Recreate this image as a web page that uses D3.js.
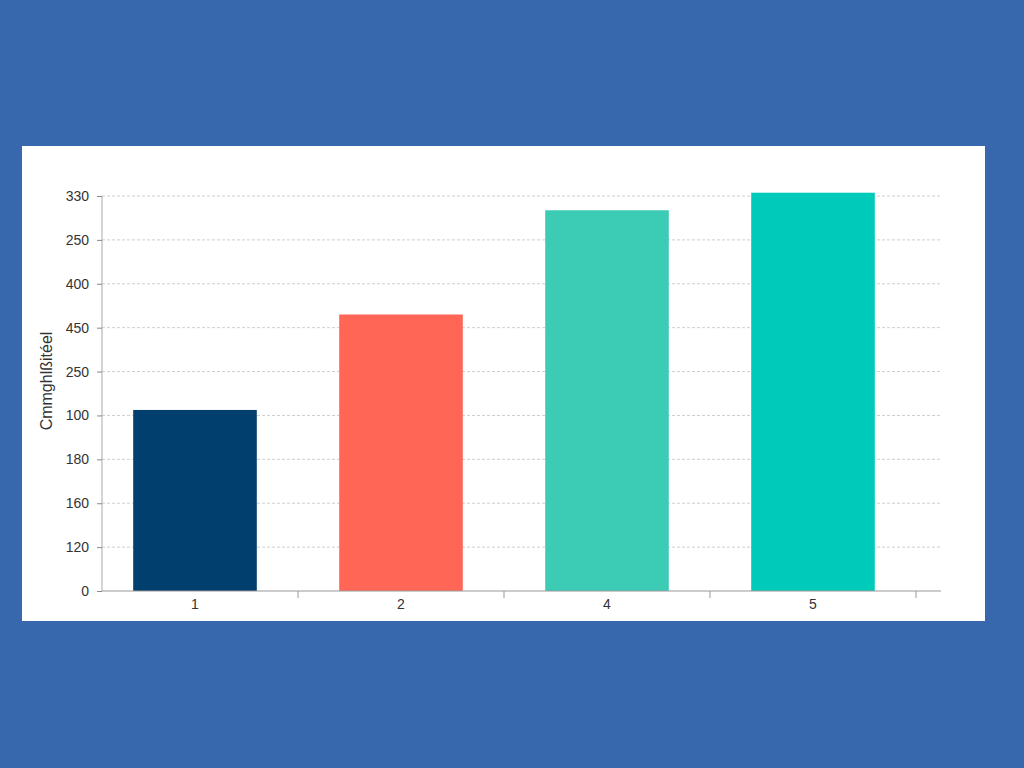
<!DOCTYPE html>
<html>
<head>
<meta charset="utf-8">
<script src="https://cdn.jsdelivr.net/npm/d3@7"></script>
<style>
  html, body { margin: 0; padding: 0; background: #3768ad; }
  svg { display: block; }
</style>
</head>
<body>
<svg></svg>
<script>
const [WIDTH, HEIGHT] = [1024, 768]

// data
const categories = ["1", "2", "4", "5"]
const values = [165, 252, 347, 363]
const barColors = ["#003f6e", "#ff6655", "#3ccbb5", "#00cbbb"]
const tickValues = [0, 40, 80, 120, 160, 200, 240, 280, 320, 360]
const tickLabels = ["0", "120", "160", "180", "100", "250", "450", "400", "250", "330"]
const yTitle = "Cmmghlßitéel"

const svg = d3.select("svg")
    .attr("width", WIDTH)
    .attr("height", HEIGHT)

// white panel
svg.append("rect")
    .attr("x", 22).attr("y", 146)
    .attr("width", 963).attr("height", 475)
    .attr("fill", "#ffffff")

const y = d3.scaleLinear().domain([0, 360]).range([591, 196])
const xOuter = d3.scaleBand().domain(categories).range([92, 916])
const xBar = d3.scaleBand().domain(categories).range([92, 916])
    .paddingInner(0.4).paddingOuter(0.2)

// grid lines
svg.append("g")
    .selectAll("line")
    .data(tickValues.slice(1))
    .join("line")
    .attr("x1", 102).attr("x2", 940)
    .attr("y1", d => y(d)).attr("y2", d => y(d))
    .attr("stroke", "#cfcfcf")
    .attr("stroke-dasharray", "3,2")
    .attr("stroke-width", 1)

// bars
svg.append("g")
    .selectAll("rect")
    .data(values)
    .join("rect")
    .attr("x", (d, i) => xBar(categories[i]))
    .attr("width", xBar.bandwidth())
    .attr("y", d => y(d))
    .attr("height", d => y(0) - y(d))
    .attr("fill", (d, i) => barColors[i])

// y axis
const yAxis = svg.append("g")
    .attr("transform", "translate(102,0)")
    .call(d3.axisLeft(y).tickValues(tickValues).tickSize(5).tickPadding(8)
        .tickFormat((d, i) => tickLabels[i]))
yAxis.select(".domain").attr("stroke", "#aaaaaa").attr("d", "M0,196V591")
yAxis.selectAll(".tick line").attr("stroke", "#888888")
yAxis.selectAll(".tick text")
    .attr("fill", "#333333")
    .style("font-family", "'Liberation Sans', Arial, sans-serif")
    .style("font-size", "14px")

// x axis
const xAxis = svg.append("g")
    .attr("transform", "translate(0,591)")
    .call(d3.axisBottom(xOuter).tickSize(0).tickPadding(8))
xAxis.select(".domain").attr("stroke", "#999999").attr("d", "M102,0H941")
xAxis.selectAll(".tick text")
    .attr("fill", "#333333")
    .style("font-family", "'Liberation Sans', Arial, sans-serif")
    .style("font-size", "14px")

// tick marks between categories
svg.append("g")
    .selectAll("line")
    .data(categories)
    .join("line")
    .attr("x1", d => xOuter(d) + xOuter.step())
    .attr("x2", d => xOuter(d) + xOuter.step())
    .attr("y1", 591).attr("y2", 598)
    .attr("stroke", "#999999")

// y axis title
svg.append("text")
    .attr("transform", "translate(52,381) rotate(-90)")
    .attr("text-anchor", "middle")
    .attr("fill", "#333333")
    .style("font-family", "'Liberation Sans', Arial, sans-serif")
    .style("font-size", "16px")
    .text(yTitle)
</script>
</body>
</html>
